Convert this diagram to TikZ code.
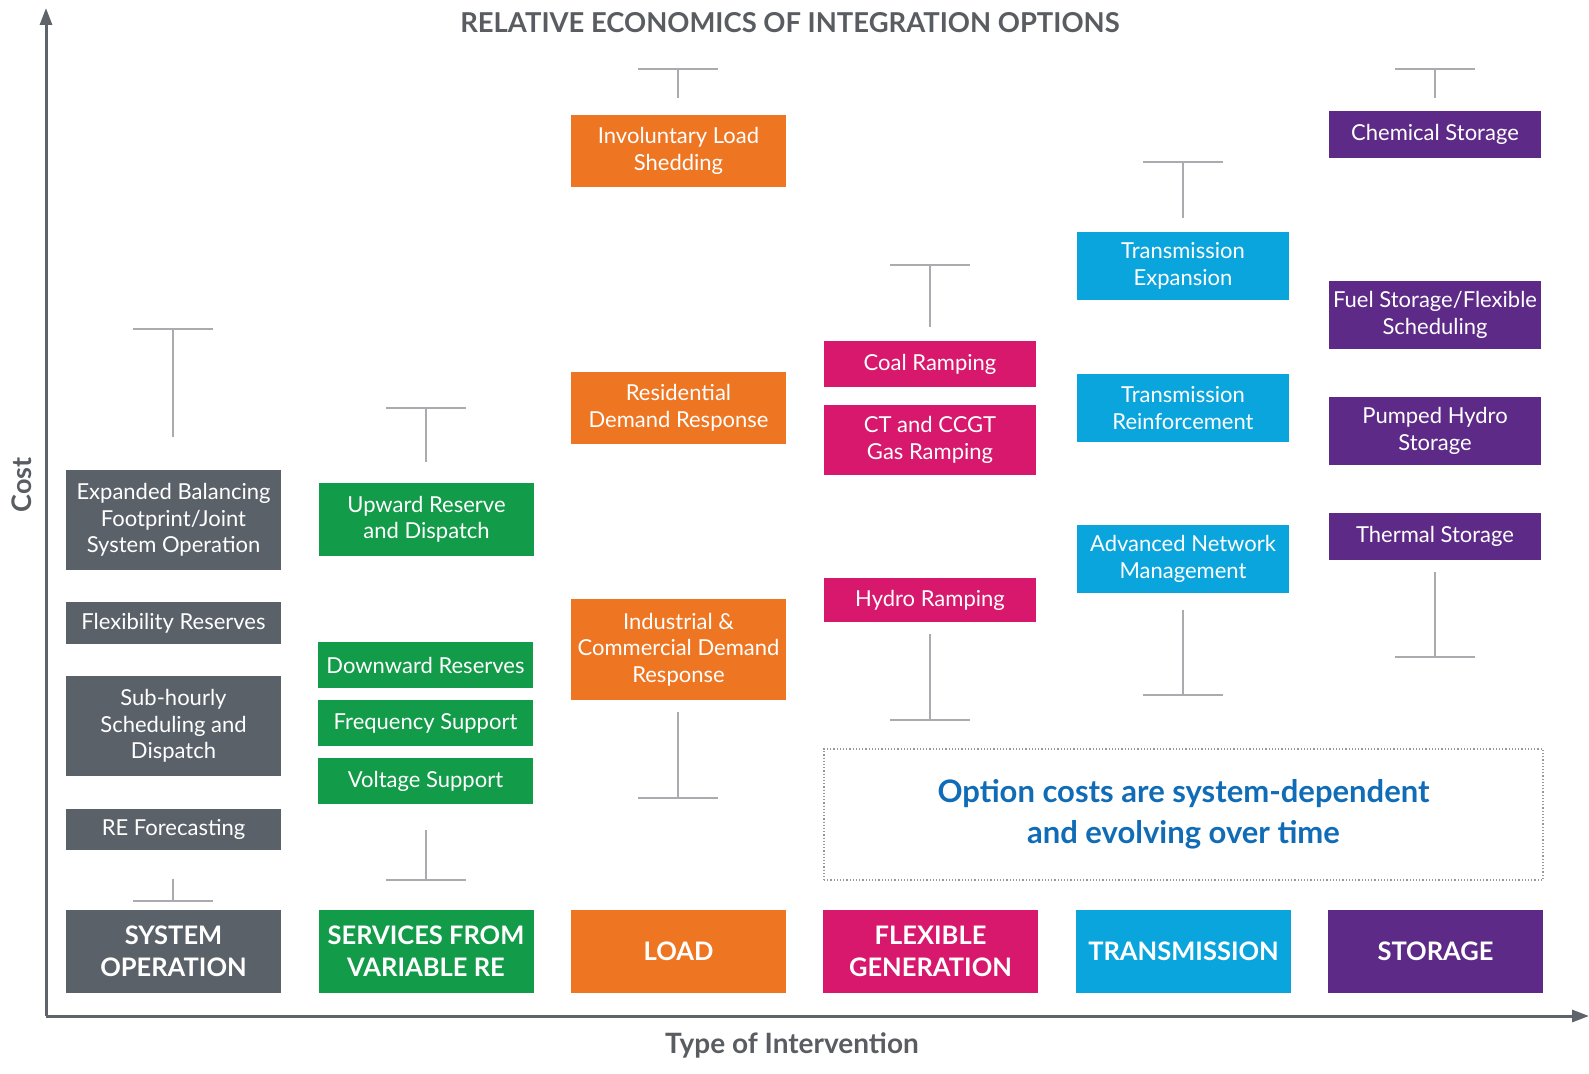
\documentclass[tikz,border=0pt]{standalone}
\usepackage{fontspec}
\setmainfont{Lato}
\usetikzlibrary{arrows.meta}
\definecolor{cgray}{HTML}{5A6169}
\definecolor{cgreen}{HTML}{129B48}
\definecolor{corange}{HTML}{EE7623}
\definecolor{cmag}{HTML}{D7186C}
\definecolor{ccyan}{HTML}{0BA5DD}
\definecolor{cpurple}{HTML}{5D2A87}
\definecolor{wgray}{HTML}{A9ABAE}
\definecolor{agray}{HTML}{5F646A}
\definecolor{tgray}{HTML}{595C60}
\definecolor{nblue}{HTML}{106CB6}
\begin{document}
\begin{tikzpicture}[x=1pt,y=-1pt,
  box/.style={rectangle, text=white, align=center, inner sep=1pt, minimum width=215pt, font=\fontsize{22}{26.5}\selectfont},
  cat/.style={box, minimum height=83pt, font=\fontsize{25.5}{32}\selectfont\bfseries},
  whisk/.style={draw=wgray, line width=2.5pt},
  axis/.style={draw=agray, line width=3pt, -{Triangle[length=17pt,width=12pt]}}]
\useasboundingbox (0,0) rectangle (1589,1073);
% axes
\coordinate (origin) at (46,1016);
\coordinate (ytip) at (46,8);
\coordinate (xtip) at (1589,1016);
\draw[axis] (origin) -- (ytip);
\draw[axis] (origin) -- (xtip);
\node[text=tgray, font=\fontsize{27.4}{30}\selectfont\bfseries] (title) at (790,23) {RELATIVE ECONOMICS OF INTEGRATION OPTIONS};
\node[text=tgray, rotate=90, font=\fontsize{27}{30}\selectfont\bfseries] (cost) at (22,485) {Cost};
\node[text=tgray, font=\fontsize{28}{30}\selectfont\bfseries] (type) at (792,1045) {Type of Intervention};
% categories
\node[cat, fill=cgray] (c1) at (173.5,951.5) {SYSTEM\\OPERATION};
\node[cat, fill=cgreen] (c2) at (426,951.5) {SERVICES FROM\\VARIABLE RE};
\node[cat, fill=corange] (c3) at (678.5,951.5) {LOAD};
\node[cat, fill=cmag] (c4) at (930.5,951.5) {FLEXIBLE\\GENERATION};
\node[cat, fill=ccyan] (c5) at (1183.5,951.5) {TRANSMISSION};
\node[cat, fill=cpurple] (c6) at (1435.5,951.5) {STORAGE};
% column 1
\node[box, fill=cgray, minimum height=100pt] (eb) at (173.5,520) {Expanded Balancing\\Footprint/Joint\\System Operation};
\node[box, fill=cgray, minimum height=42pt] (fr) at (173.5,623) {Flexibility Reserves};
\node[box, fill=cgray, minimum height=100pt] (sh) at (173.5,726) {Sub-hourly\\Scheduling and\\Dispatch};
\node[box, fill=cgray, minimum height=41pt] (ref) at (173.5,829.5) {RE Forecasting};
% column 2
\node[box, fill=cgreen, minimum height=73pt] (up) at (426.5,519.5) {Upward Reserve\\and Dispatch};
\node[box, fill=cgreen, minimum height=46pt] (dr) at (425.5,665) {Downward Reserves};
\node[box, fill=cgreen, minimum height=46pt] (fs) at (425.5,723) {Frequency Support};
\node[box, fill=cgreen, minimum height=46pt] (vs) at (425.5,781) {Voltage Support};
% column 3
\node[box, fill=corange, minimum height=72pt] (ils) at (678.5,151) {Involuntary Load\\Shedding};
\node[box, fill=corange, minimum height=72pt] (rdr) at (678.5,408) {Residential\\Demand Response};
\node[box, fill=corange, minimum height=101pt] (icdr) at (678.5,649.5) {Industrial \&\\Commercial Demand\\Response};
% column 4
\node[box, fill=cmag, minimum width=212pt, minimum height=46pt] (coal) at (930,364) {Coal Ramping};
\node[box, fill=cmag, minimum width=212pt, minimum height=70pt] (ct) at (930,440) {CT and CCGT\\Gas Ramping};
\node[box, fill=cmag, minimum width=212pt, minimum height=44pt] (hyd) at (930,600) {Hydro Ramping};
% column 5
\node[box, fill=ccyan, minimum width=212pt, minimum height=68pt] (te) at (1183,266) {Transmission\\Expansion};
\node[box, fill=ccyan, minimum width=212pt, minimum height=68pt] (tr) at (1183,408) {Transmission\\Reinforcement};
\node[box, fill=ccyan, minimum width=212pt, minimum height=68pt] (anm) at (1183,559) {Advanced Network\\Management};
% column 6
\node[box, fill=cpurple, minimum width=212pt, minimum height=47pt] (chem) at (1435,134.5) {Chemical Storage};
\node[box, fill=cpurple, minimum width=212pt, minimum height=68pt] (fuel) at (1435,315) {Fuel Storage/Flexible\\Scheduling};
\node[box, fill=cpurple, minimum width=212pt, minimum height=68pt] (ph) at (1435,431) {Pumped Hydro\\Storage};
\node[box, fill=cpurple, minimum width=212pt, minimum height=47pt] (ts) at (1435,536.5) {Thermal Storage};
% whiskers: top (bar, stem end), bottom (stem start, bar)
\foreach \n/\cx/\yb/\ye in {w1t/173/329/437,w2t/426/408/462,w3t/678/69/98,w4t/930/265/327,w5t/1183/162/218,w6t/1435/69/98,w1b/173/901/879,w2b/426/880/830,w3b/678/798/712,w4b/930/720/634,w5b/1183/695/610,w6b/1435/657/572}{
  \coordinate (\n-l) at (\cx-40,\yb);
  \coordinate (\n-r) at (\cx+40,\yb);
  \coordinate (\n-m) at (\cx,\yb);
  \coordinate (\n-e) at (\cx,\ye);
  \draw[whisk] (\n-l) -- (\n-r);
  \draw[whisk] (\n-m) -- (\n-e);
}
% note
\node[draw=gray!80, dotted, line width=1.2pt, minimum width=719pt, minimum height=131pt] (note) at (1183.5,814.5) {};
\node[text=nblue, align=center, font=\fontsize{31}{41}\selectfont\bfseries] (notetext) at (note.center) {Option costs are system-dependent\\and evolving over time};
\end{tikzpicture}
\end{document}
